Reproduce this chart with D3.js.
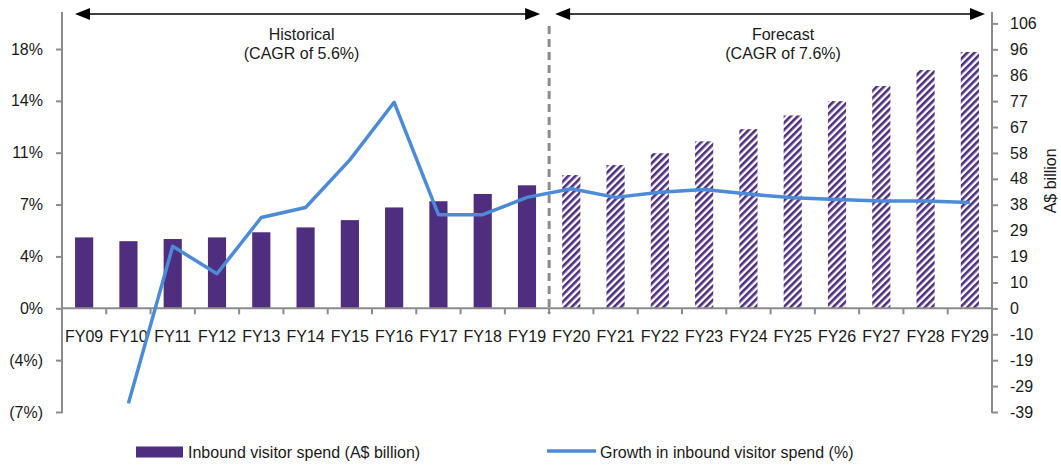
<!DOCTYPE html>
<html>
<head>
<meta charset="utf-8">
<script src="https://cdn.jsdelivr.net/npm/d3@7"></script>
<style>
  html, body { margin: 0; padding: 0; background: #fff; }
  svg { display: block; font-family: "Liberation Sans", Arial, sans-serif; }
</style>
</head>
<body>
<svg id="chart" width="1061" height="469"></svg>
<script>
// ---------- data ----------
const categories = ["FY09","FY10","FY11","FY12","FY13","FY14","FY15","FY16","FY17","FY18","FY19",
                    "FY20","FY21","FY22","FY23","FY24","FY25","FY26","FY27","FY28","FY29"];
const forecastStart = "FY20";
const spendValues = [26.3, 24.9, 25.7, 26.3, 28.2, 30.0, 32.7, 37.4, 39.7, 42.4, 45.6,
                     49.4, 53.1, 57.5, 61.9, 66.4, 71.5, 76.8, 82.4, 88.3, 95.0];
const growthValues = [null, -6.6, 4.3, 2.4, 6.3, 7.0, 10.3, 14.3, 6.5, 6.5, 7.7,
                      8.3, 7.7, 8.05, 8.25, 7.93, 7.67, 7.56, 7.44, 7.44, 7.35];
const leftTickValues = [-7.2, -3.6, 0, 3.6, 7.2, 10.8, 14.4, 18];
const leftTickLabels = ["(7%)","(4%)","0%","4%","7%","11%","14%","18%"];
const rightTickValues = [-38.4, -28.8, -19.2, -9.6, 0, 9.6, 19.2, 28.8, 38.4, 48, 57.6, 67.2, 76.8, 86.4, 96, 105.6];
const rightTickLabels = ["-39","-29","-19","-10","0","10","19","29","38","48","58","67","77","86","96","106"];
const seriesNames = ["Inbound visitor spend (A$ billion)", "Growth in inbound visitor spend (%)"];
const periodLabels = [["Historical", "(CAGR of 5.6%)"], ["Forecast", "(CAGR of 7.6%)"]];
const rightAxisTitle = "A$ billion";

// ---------- styles ----------
const barColor = "#4f2d7f";
const lineColor = "#4b8bd8";
const axisColor = "#8c8c8c";
const textColor = "#1a1a1a";
const fontSize = 16;

const svg = d3.select("#chart");

// ---------- scales ----------
const x = d3.scaleBand().domain(categories).range([62, 992]).padding(0);
const yL = d3.scaleLinear().domain([-7.2, 18]).range([412, 49]);
const yR = d3.scaleLinear().domain([-38.4, 105.6]).range([412, 23.4]);
const axisTop = 12;
const barW = x.bandwidth() * 0.41;

// ---------- pattern ----------
const defs = svg.append("defs");
const pat = defs.append("pattern")
  .attr("id", "hatch").attr("patternUnits", "userSpaceOnUse")
  .attr("width", 5).attr("height", 5)
  .attr("patternTransform", "rotate(45)");
pat.append("rect").attr("width", 5).attr("height", 5).attr("fill", "#fff");
pat.append("rect").attr("width", 2.6).attr("height", 5).attr("fill", barColor);

const fcIdx = categories.indexOf(forecastStart);

// ---------- bars ----------
svg.append("g").selectAll("rect")
  .data(categories.map((c, i) => ({c, v: spendValues[i], i})))
  .join("rect")
  .attr("x", d => x(d.c) + (x.bandwidth() - barW) / 2)
  .attr("width", barW)
  .attr("y", d => yR(d.v))
  .attr("height", d => yR(0) - yR(d.v))
  .attr("fill", d => d.i >= fcIdx ? "url(#hatch)" : barColor);

// ---------- x axis ----------
const y0 = yL(0);
const gx = svg.append("g").attr("stroke", axisColor).attr("stroke-width", 2);
gx.append("line").attr("x1", x.range()[0]).attr("x2", x.range()[1]).attr("y1", y0).attr("y2", y0);
categories.slice(1).forEach(c => {
  gx.append("line").attr("x1", x(c)).attr("x2", x(c)).attr("y1", y0).attr("y2", y0 + 6);
});
svg.append("g").selectAll("text").data(categories).join("text")
  .attr("x", d => x(d) + x.bandwidth() / 2)
  .attr("y", y0 + 34)
  .attr("text-anchor", "middle")
  .attr("font-size", fontSize).attr("fill", textColor)
  .text(d => d);

// ---------- dashed divider ----------
const divX = x(forecastStart);
svg.append("line")
  .attr("x1", divX).attr("x2", divX)
  .attr("y1", 26).attr("y2", y0 + 5)
  .attr("stroke", axisColor).attr("stroke-width", 3)
  .attr("stroke-dasharray", "8,5");

// ---------- left axis ----------
const gl = svg.append("g").attr("transform", `translate(${x.range()[0]},0)`)
  .call(d3.axisLeft(yL).tickValues(leftTickValues)
    .tickFormat((d, i) => leftTickLabels[i]).tickSize(6).tickPadding(13).tickSizeOuter(0));
gl.select(".domain").remove();
gl.selectAll(".tick line").attr("stroke", axisColor).attr("stroke-width", 2);
gl.selectAll(".tick text").attr("font-size", fontSize).attr("fill", textColor)
  .attr("font-family", "Liberation Sans, Arial, sans-serif");
gl.append("line").attr("x1", 0).attr("x2", 0).attr("y1", axisTop).attr("y2", yL(-7.2) + 1)
  .attr("stroke", axisColor).attr("stroke-width", 2);

// ---------- right axis ----------
const gr = svg.append("g").attr("transform", `translate(${x.range()[1]},0)`)
  .call(d3.axisRight(yR).tickValues(rightTickValues)
    .tickFormat((d, i) => rightTickLabels[i]).tickSize(6).tickPadding(12).tickSizeOuter(0));
gr.select(".domain").remove();
gr.selectAll(".tick line").attr("stroke", axisColor).attr("stroke-width", 2);
gr.selectAll(".tick text").attr("font-size", fontSize).attr("fill", textColor)
  .attr("font-family", "Liberation Sans, Arial, sans-serif");
gr.append("line").attr("x1", 0).attr("x2", 0).attr("y1", axisTop).attr("y2", yR(-38.4) + 1)
  .attr("stroke", axisColor).attr("stroke-width", 2);
svg.append("text")
  .attr("transform", `translate(1056, ${yR(48) + 2}) rotate(-90)`)
  .attr("text-anchor", "middle")
  .attr("font-size", fontSize).attr("fill", textColor)
  .text(rightAxisTitle);

// ---------- growth line ----------
const line = d3.line()
  .defined(d => d.v !== null)
  .x(d => x(d.c) + x.bandwidth() / 2)
  .y(d => yL(d.v));
svg.append("path")
  .datum(categories.map((c, i) => ({c, v: growthValues[i]})))
  .attr("d", line)
  .attr("fill", "none")
  .attr("stroke", lineColor)
  .attr("stroke-width", 3.5)
  .attr("stroke-linejoin", "round");

// ---------- period arrows ----------
function arrow(x1, x2, yy) {
  const g = svg.append("g");
  g.append("line").attr("x1", x1 + 10).attr("x2", x2 - 10).attr("y1", yy).attr("y2", yy)
    .attr("stroke", "#000").attr("stroke-width", 1.3);
  g.append("path").attr("d", `M${x1},${yy} L${x1 + 15},${yy - 6} L${x1 + 15},${yy + 6} Z`).attr("fill", "#000");
  g.append("path").attr("d", `M${x2},${yy} L${x2 - 15},${yy - 6} L${x2 - 15},${yy + 6} Z`).attr("fill", "#000");
}
const arrowY = 14;
const hx1 = x(categories[0]) + 13, hx2 = divX - 9;
const fx1 = divX + 6, fx2 = x.range()[1] - 7;
arrow(hx1, hx2, arrowY);
arrow(fx1, fx2, arrowY);

const periodCenters = [(hx1 + hx2) / 2 - 6, (fx1 + fx2) / 2 + 13];
periodLabels.forEach((lbls, k) => {
  lbls.forEach((t, j) => {
    svg.append("text")
      .attr("x", periodCenters[k]).attr("y", 40 + j * 19)
      .attr("text-anchor", "middle")
      .attr("font-size", fontSize).attr("fill", textColor)
      .text(t);
  });
});

// ---------- legend ----------
const legY = 452;
svg.append("rect").attr("x", 136).attr("y", legY - 5.5).attr("width", 47).attr("height", 11).attr("fill", barColor);
svg.append("text").attr("x", 188).attr("y", legY + 6)
  .attr("font-size", fontSize).attr("fill", textColor).text(seriesNames[0]);
svg.append("line").attr("x1", 547).attr("x2", 596).attr("y1", legY - 1).attr("y2", legY - 1)
  .attr("stroke", lineColor).attr("stroke-width", 3.5);
svg.append("text").attr("x", 600).attr("y", legY + 6)
  .attr("font-size", fontSize).attr("fill", textColor).text(seriesNames[1]);
</script>
</body>
</html>
